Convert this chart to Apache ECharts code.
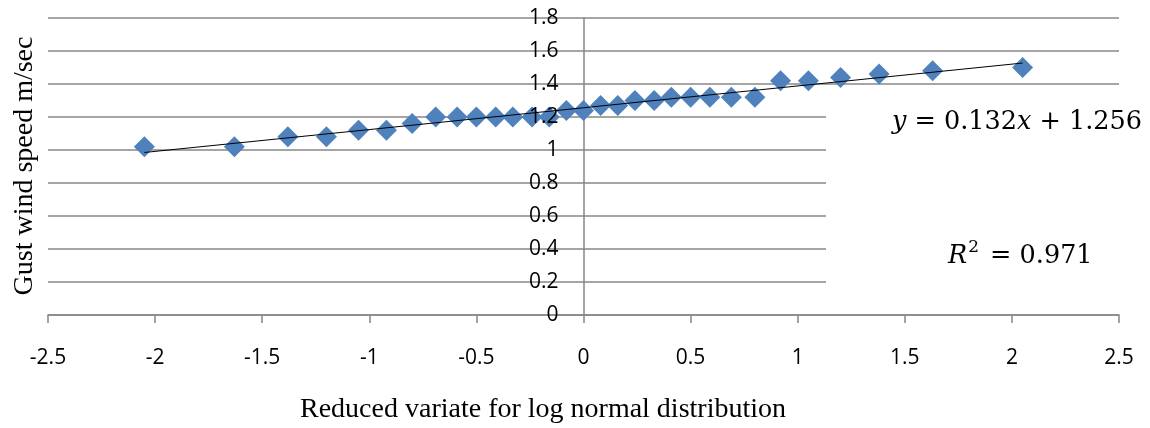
<!DOCTYPE html>
<html lang="en">
<head>
    <meta charset="UTF-8">
    <title>gust_wind_lognormal</title>
    <style type="text/css">
        html, body {
            margin: 0;
            padding: 0;
            background: #fff;
        }
        #box {
            width: 1150px;
            height: 428px;
        }
    </style>
</head>
<body>
<div id="box"></div>
</body>
<script type="text/javascript" src="https://cdn.jsdelivr.net/npm/echarts@6/dist/echarts.min.js"></script>
<script type="text/javascript">
    // reduced variate (x) and gust wind speed (y)
    let variate = [-2.05, -1.63, -1.38, -1.20, -1.05, -0.92, -0.80, -0.69, -0.59, -0.50, -0.41, -0.33, -0.24, -0.16, -0.08,
        0, 0.08, 0.16, 0.24, 0.33, 0.41, 0.50, 0.59, 0.69, 0.80, 0.92, 1.05, 1.20, 1.38, 1.63, 2.05];
    let gustSpeed = [1.02, 1.02, 1.08, 1.08, 1.12, 1.12, 1.16, 1.20, 1.20, 1.20, 1.20, 1.20, 1.20, 1.20, 1.24,
        1.24, 1.27, 1.27, 1.30, 1.30, 1.32, 1.32, 1.32, 1.32, 1.32, 1.42, 1.42, 1.44, 1.46, 1.48, 1.50];
    // linear trend line end points
    let trendX = [-2.05, 2.05];
    let trendY = [0.985, 1.527];
    let xTicks = {min: -2.5, max: 2.5, interval: 0.5};
    let yTicks = {min: 0, max: 1.8, interval: 0.2};
    let equationText = '{i|y} = 0.132{i|x} + 1.256';
    let r2Text = '{i|R}{sup|2} = 0.971';

    let gridLeft = 48, gridRight = 31, gridTop = 18, gridBottom = 113;
    let plotWidth = 1150 - gridLeft - gridRight;
    // where x = 0 falls, used to park the label-only y axis on the zero line
    let zeroOffset = (0 - xTicks.min) / (xTicks.max - xTicks.min) * plotWidth;

    let gray = '#878787';
    let labelFont = '"Open Sans", sans-serif';
    let serif = '"Liberation Serif", "Times New Roman", serif';
    let mathFont = '"DejaVu Serif", serif';

    function pairs(xs, ys) {
        let result = [];
        for (let i = 0; i < xs.length; i++) {
            result.push([xs[i], ys[i]]);
        }
        return result;
    }

    let myChart = echarts.init(document.getElementById('box'));
    let option = {
        animation: false,
        backgroundColor: '#fff',
        grid: {
            left: gridLeft,
            right: gridRight,
            top: gridTop,
            bottom: gridBottom,
            outerBoundsMode: 'none'
        },
        xAxis: {
            type: 'value',
            min: xTicks.min,
            max: xTicks.max,
            interval: xTicks.interval,
            axisLine: {lineStyle: {color: gray, width: 1.5}},
            axisTick: {show: true, length: 8, lineStyle: {color: gray, width: 1.5}},
            axisLabel: {color: '#000', fontSize: 21, fontFamily: labelFont, margin: 33},
            splitLine: {show: false}
        },
        yAxis: [
            {
                type: 'value',
                min: yTicks.min,
                max: yTicks.max,
                interval: yTicks.interval,
                axisLine: {show: true, onZero: true, lineStyle: {color: gray, width: 1.5}},
                axisTick: {show: false},
                axisLabel: {show: false},
                splitLine: {show: true, lineStyle: {color: gray, width: 1.5}}
            },
            {
                // labels only, drawn above the markers like the original
                type: 'value',
                position: 'left',
                offset: -zeroOffset,
                min: yTicks.min,
                max: yTicks.max,
                interval: yTicks.interval,
                z: 5,
                axisLine: {show: false, onZero: false},
                axisTick: {show: false},
                axisLabel: {color: '#000', fontSize: 21, fontFamily: labelFont, margin: 25},
                splitLine: {show: false}
            }
        ],
        graphic: [
            // white text box that hides the grid lines behind the equation
            {
                type: 'rect',
                z: 1,
                shape: {x: 826, y: 100, width: 330, height: 200},
                style: {fill: '#fff'}
            },
            {
                type: 'text',
                z: 6,
                x: 892,
                y: 122,
                style: {
                    text: equationText,
                    font: '25.5px ' + mathFont,
                    fill: '#000',
                    verticalAlign: 'middle',
                    rich: {i: {fontStyle: 'italic', fontSize: 25.5, fontFamily: mathFont}}
                }
            },
            {
                type: 'text',
                z: 6,
                x: 948,
                y: 256,
                style: {
                    text: r2Text,
                    font: '25.5px ' + mathFont,
                    fill: '#000',
                    verticalAlign: 'middle',
                    rich: {
                        i: {fontStyle: 'italic', fontSize: 25.5, fontFamily: mathFont},
                        sup: {fontSize: 17, fontFamily: mathFont, verticalAlign: 'top', padding: [0, 3, 16, 1]}
                    }
                }
            },
            {
                type: 'text',
                z: 6,
                x: 543,
                y: 410,
                style: {
                    text: 'Reduced variate for log normal distribution',
                    font: '28px ' + serif,
                    fill: '#000',
                    align: 'center',
                    verticalAlign: 'middle'
                }
            },
            {
                type: 'text',
                z: 6,
                x: 25,
                y: 166,
                rotation: Math.PI / 2,
                style: {
                    text: 'Gust wind speed m/sec',
                    font: '28px ' + serif,
                    fill: '#000',
                    align: 'center',
                    verticalAlign: 'middle'
                }
            }
        ],
        series: [
            {
                name: 'Gust wind speed',
                type: 'scatter',
                symbol: 'diamond',
                symbolSize: 21,
                itemStyle: {color: '#4F81BD', opacity: 1},
                data: pairs(variate, gustSpeed),
                z: 2
            },
            {
                name: 'Linear trend',
                type: 'line',
                showSymbol: false,
                symbol: 'none',
                lineStyle: {color: '#000', width: 1},
                data: pairs(trendX, trendY),
                z: 3
            }
        ]
    };
    myChart.setOption(option);
</script>
</html>
